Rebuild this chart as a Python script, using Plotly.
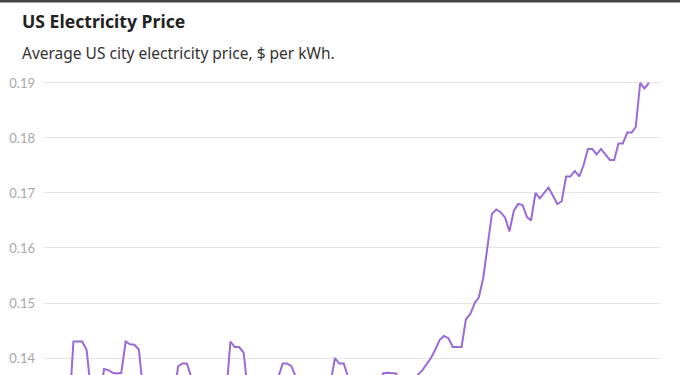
import plotly.graph_objects as go
import pandas as pd

# Monthly average US city electricity price ($ per kWh), Jan 2014 - Jun 2025
months = pd.date_range("2014-01-01", "2025-06-01", freq="MS").strftime("%Y-%m-%d").tolist()

prices = [
    # 2014
    0.130, 0.131, 0.131, 0.132, 0.130, 0.143, 0.143, 0.143, 0.1415, 0.134, 0.132, 0.133,
    # 2015
    0.138, 0.1378, 0.1373, 0.1372, 0.1373, 0.143, 0.1425, 0.1424, 0.1415, 0.134, 0.131, 0.132,
    # 2016
    0.129, 0.130, 0.131, 0.132, 0.133, 0.1385, 0.139, 0.139, 0.1365, 0.133, 0.131, 0.132,
    # 2017
    0.131, 0.132, 0.132, 0.133, 0.133, 0.143, 0.142, 0.142, 0.141, 0.134, 0.132, 0.132,
    # 2018
    0.130, 0.131, 0.131, 0.132, 0.1365, 0.139, 0.139, 0.1385, 0.1365, 0.133, 0.131, 0.132,
    # 2019
    0.131, 0.132, 0.132, 0.133, 0.1355, 0.140, 0.139, 0.139, 0.1365, 0.133, 0.132, 0.132,
    # 2020
    0.131, 0.131, 0.132, 0.134, 0.1372, 0.1373, 0.1373, 0.1372, 0.135, 0.134, 0.133, 0.135,
    # 2021
    0.137, 0.1378, 0.1388, 0.140, 0.1415, 0.1433, 0.144, 0.1436, 0.142, 0.142, 0.142, 0.147,
    # 2022
    0.148, 0.150, 0.151, 0.1545, 0.1605, 0.1662, 0.167, 0.1665, 0.1655, 0.163, 0.1668, 0.168,
    # 2023
    0.1678, 0.1656, 0.165, 0.170, 0.169, 0.170, 0.171, 0.1695, 0.168, 0.1685, 0.173, 0.173,
    # 2024
    0.174, 0.173, 0.175, 0.178, 0.178, 0.177, 0.178, 0.177, 0.176, 0.176, 0.179, 0.179,
    # 2025
    0.181, 0.181, 0.182, 0.190, 0.189, 0.190,
]

y_ticks = [0.14, 0.15, 0.16, 0.17, 0.18, 0.19]
y_tick_labels = ["0.14", "0.15", "0.16", "0.17", "0.18", "0.19"]

title_text = "US Electricity Price"
subtitle_text = "Average US city electricity price, $ per kWh."

base = pd.Timestamp("2014-01-01")
day_per_month = 30.44
x_start = base - pd.Timedelta(days=1.79 * day_per_month)
x_end = base + pd.Timedelta(days=139.5 * day_per_month)

fig = go.Figure()
fig.add_trace(go.Scatter(
    x=months, y=prices, mode="lines",
    line=dict(color="#9a6ad6", width=2),
    hoverinfo="x+y", showlegend=False,
))

fig.update_layout(
    width=680, height=375,
    margin=dict(l=44, r=20, t=70, b=0, pad=0),
    paper_bgcolor="white", plot_bgcolor="white",
    font=dict(family="Noto Sans, Open Sans, sans-serif"),
    xaxis=dict(type="date", range=[x_start, x_end], showgrid=False, zeroline=False,
               showline=False, showticklabels=False, ticks=""),
    yaxis=dict(range=[0.13691, 0.19236], tickvals=y_ticks, ticktext=y_tick_labels,
               showgrid=True, gridcolor="#e4e4e4", gridwidth=1, zeroline=False,
               showline=False, ticks="", ticklabelstandoff=8,
               tickfont=dict(family="Lato, Noto Sans, sans-serif", size=13, color="#a8a8a8")),
    annotations=[
        dict(text="<b>" + title_text + "</b>", xref="paper", yref="paper",
             x=-24 / 616, y=1 + 49 / 305, xanchor="left", yanchor="middle", showarrow=False,
             font=dict(family="Noto Sans, sans-serif", size=17.6, color="#222222")),
        dict(text=subtitle_text, xref="paper", yref="paper",
             x=-24 / 616, y=1 + 17 / 305, xanchor="left", yanchor="middle", showarrow=False,
             font=dict(family="Noto Sans, sans-serif", size=15.5, color="#333333")),
    ],
    shapes=[
        dict(type="line", xref="paper", yref="paper", x0=-44 / 616, x1=1 + 20 / 616,
             y0=1 + 69 / 305, y1=1 + 69 / 305, line=dict(color="#444444", width=3)),
    ],
)

fig.write_html("out.html")
